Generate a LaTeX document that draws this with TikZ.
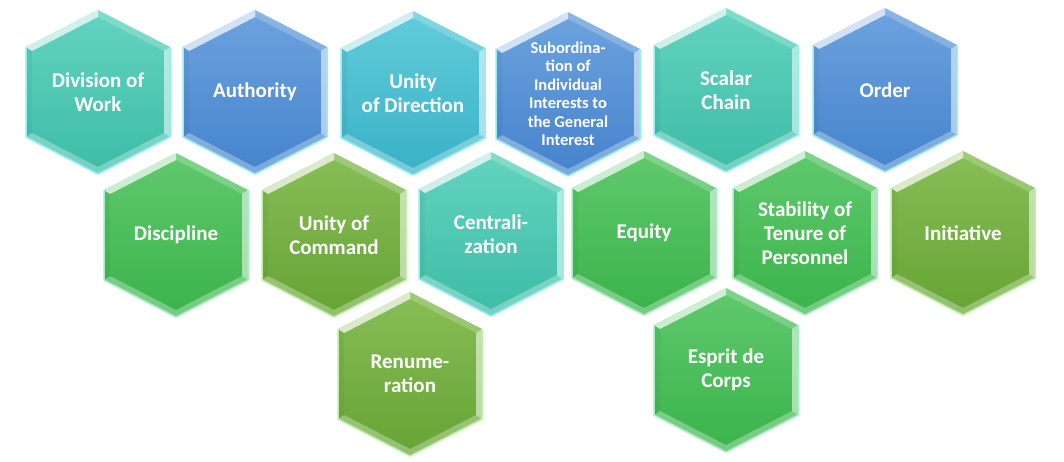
\documentclass[tikz,border=0pt]{standalone}
\usepackage{fontspec}
\setmainfont{Carlito}
\usetikzlibrary{calc}

\tikzset{
  tealhex/.style={hexfill/.style={top color=hexTealTop, bottom color=hexTealBot},
                  hexglow/.style={draw=hexAqua}},
  cyanhex/.style={hexfill/.style={top color=hexCyanTop, bottom color=hexCyanBot},
                  hexglow/.style={draw=hexAqua}},
  bluehex/.style={hexfill/.style={top color=hexBlueTop, bottom color=hexBlueBot},
                  hexglow/.style={draw=hexAqua}},
  greenhex/.style={hexfill/.style={top color=hexGreenTop, bottom color=hexGreenBot},
                   hexglow/.style={draw=hexMint}},
  olivehex/.style={hexfill/.style={top color=hexOliveTop, bottom color=hexOliveBot},
                   hexglow/.style={draw=hexLime}},
  hextext/.style={text=white, align=center, inner sep=0pt,
                  font=\bfseries\fontsize{21}{24}\selectfont},
}

\definecolor{hexTealTop}{HTML}{63D4BF}
\definecolor{hexTealBot}{HTML}{3DBCA6}
\definecolor{hexCyanTop}{HTML}{62CCDB}
\definecolor{hexCyanBot}{HTML}{39B1C6}
\definecolor{hexBlueTop}{HTML}{6DA3DF}
\definecolor{hexBlueBot}{HTML}{4583CC}
\definecolor{hexGreenTop}{HTML}{60C96E}
\definecolor{hexGreenBot}{HTML}{3AB34A}
\definecolor{hexOliveTop}{HTML}{88BE57}
\definecolor{hexOliveBot}{HTML}{66A334}
\definecolor{hexAqua}{HTML}{8EF0F4}
\definecolor{hexMint}{HTML}{9FEFC0}
\definecolor{hexLime}{HTML}{BDF0A0}

% one bevelled cell: [text opts]{name}{centre}{family}{text}
\newcommand\hexcell[5][]{%
  \begin{scope}[shift={(#3)},#4]
    \coordinate (t) at (0,-82);  \coordinate (ti) at (0,-75);
    \coordinate (ru) at (72,-45); \coordinate (rui) at (66,-41);
    \coordinate (rd) at (72,45);  \coordinate (rdi) at (66,41);
    \coordinate (b) at (0,82);    \coordinate (bi) at (0,75);
    \coordinate (ld) at (-72,45); \coordinate (ldi) at (-66,41);
    \coordinate (lu) at (-72,-45); \coordinate (lui) at (-66,-41);
    \shade[hexfill] (t)--(ru)--(rd)--(b)--(ld)--(lu)--cycle;
    \fill[white,opacity=.7]  (lu)--(t)--(ti)--(lui)--cycle;
    \fill[white,opacity=.2]  (t)--(ru)--(rui)--(ti)--cycle;
    \fill[white,opacity=.55] (ru)--(rd)--(rdi)--(rui)--cycle;
    \fill[white,opacity=.3]  (rd)--(b)--(bi)--(rdi)--cycle;
    \fill[white,opacity=.3]  (b)--(ld)--(ldi)--(bi)--cycle;
    \fill[black,opacity=.04] (ld)--(lu)--(lui)--(ldi)--cycle;
    \draw[hexglow, line width=1.5pt, line join=round] (ru)--(rd)--(b)--(ld)--(lu);
    \node[hextext,#1] (#2) at (0,0) {#5};
  \end{scope}}

\begin{document}
\begin{tikzpicture}[x=1pt,y=-1pt]
  \useasboundingbox (0,0) rectangle (1064,461);

  % top row
  \hexcell{work}{98,92}{tealhex}{Division of\\Work}
  \hexcell{auth}{255,92}{bluehex}{Authority}
  \hexcell{direction}{413,93}{cyanhex}{Unity\\of Direction}
  \hexcell[font=\bfseries\fontsize{16.5}{18.5}\selectfont]{subord}{568,94}{bluehex}%
    {Subordina-\\tion of\\Individual\\Interests to\\the General\\Interest}
  \hexcell{scalar}{726,90}{tealhex}{Scalar\\Chain}
  \hexcell{order}{885,90}{bluehex}{Order}

  % middle row
  \hexcell{discipline}{176,235}{greenhex}{Discipline}
  \hexcell{command}{334,235}{olivehex}{Unity of\\Command}
  \hexcell{central}{491,234}{tealhex}{Centrali-\\zation}
  \hexcell{equity}{644,233}{greenhex}{Equity}
  \hexcell{tenure}{805,233}{greenhex}{Stability of\\Tenure of\\Personnel}
  \hexcell{initiative}{963,233}{olivehex}{Initiative}

  % bottom row
  \hexcell{renum}{410,374}{olivehex}{Renume-\\ration}
  \hexcell{esprit}{726,370}{greenhex}{Esprit de\\Corps}
\end{tikzpicture}
\end{document}
